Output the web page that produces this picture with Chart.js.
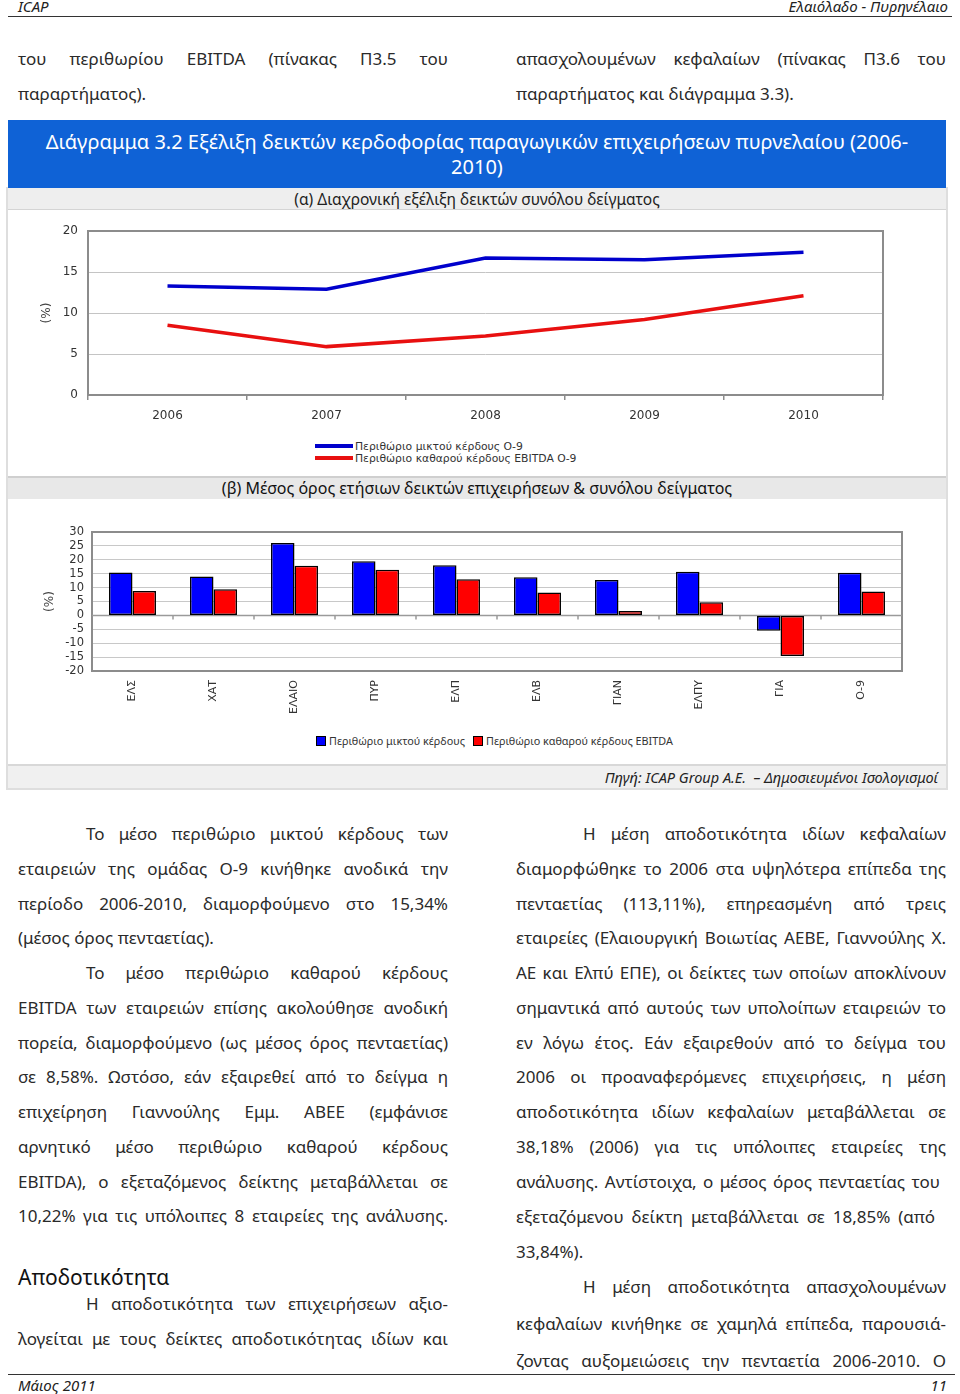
<!DOCTYPE html>
<html><head><meta charset="utf-8">
<script src="https://cdn.jsdelivr.net/npm/chart.js@4"></script>
<style>
html,body{margin:0;padding:0;background:#fff;}
body{width:960px;height:1394px;position:relative;overflow:hidden;font-family:"Noto Sans",sans-serif;color:#2a2a2a;}
.abs{position:absolute;}
.ln{position:absolute;font-size:17px;line-height:24px;height:24px;white-space:normal;overflow:visible;}
.j{text-align:justify;text-align-last:justify;}
.hdr{position:absolute;font-style:italic;font-size:15px;line-height:18px;color:#222;}
.rule{position:absolute;height:0;border-top:1.5px solid #333;}
.bar{position:absolute;left:8px;width:938px;text-align:center;}
.leg1{position:absolute;font-family:"DejaVu Sans",sans-serif;font-size:10.8px;line-height:12px;color:#333;white-space:nowrap;}
.leg1 i{display:inline-block;width:38px;height:3.5px;vertical-align:middle;margin-right:2px;position:relative;top:-1px;}
.leg2{position:absolute;font-size:10.8px;line-height:14px;color:#333;white-space:nowrap;}
.leg2 i{display:inline-block;width:8px;height:8px;border:1px solid #000;vertical-align:middle;margin-right:3px;position:relative;top:-1px;}
</style></head>
<body>

<!-- page header -->
<div class="hdr" style="left:18px;top:-3px;">ICAP</div>
<div class="hdr" style="right:12px;top:-3px;">Ελαιόλαδο - Πυρηνέλαιο</div>
<div class="rule" style="left:8px;width:944px;top:16px;"></div>

<!-- text above chart -->
<div class="ln j" style="left:18px;top:47px;width:430px;">του περιθωρίου EBITDA (πίνακας Π3.5 του</div>
<div class="ln" style="left:18px;top:82px;width:430px;">παραρτήματος).</div>
<div class="ln j" style="left:516px;top:47px;width:430px;">απασχολουμένων κεφαλαίων (πίνακας Π3.6 του</div>
<div class="ln" style="left:516px;top:82px;width:430px;">παραρτήματος και διάγραμμα 3.3).</div>

<!-- chart box -->
<div class="abs" style="left:6px;top:187px;width:938px;height:599px;border:2px solid #dedede;"></div>
<div class="bar" style="top:120px;height:68px;background:#0f62d6;color:#fff;font-size:20px;line-height:25px;">
  <div style="padding-top:9px;">Διάγραμμα 3.2 Εξέλιξη δεικτών κερδοφορίας παραγωγικών επιχειρήσεων πυρνελαίου (2006-<br>2010)</div>
</div>
<div class="bar" style="top:188px;height:21px;background:#eeeeee;border-bottom:1px solid #d4d4d4;font-size:15.5px;line-height:22px;color:#222;">(α) Διαχρονική εξέλιξη δεικτών συνόλου δείγματος</div>

<div class="abs" style="left:8px;top:210px;width:938px;height:225px;"><canvas id="c1" width="938" height="225"></canvas></div>

<div class="leg1" style="left:315px;top:441px;"><i style="background:#0000cc"></i>Περιθώριο μικτού κέρδους Ο-9</div>
<div class="leg1" style="left:315px;top:453px;"><i style="background:#e81010"></i>Περιθώριο καθαρού κέρδους EBITDA Ο-9</div>

<div class="bar" style="top:476px;height:21px;background:#e8e8e8;border-top:2px solid #cfcfcf;font-size:16px;line-height:21px;color:#111;">(β) Μέσος όρος ετήσιων δεικτών επιχειρήσεων &amp; συνόλου δείγματος</div>

<div class="abs" style="left:8px;top:498px;width:938px;height:232px;"><canvas id="c2" width="938" height="232"></canvas></div>

<div class="leg2" style="left:316px;top:734px;"><i style="background:#0000ff"></i>Περιθώριο μικτού κέρδους</div>
<div class="leg2" style="left:473px;top:734px;"><i style="background:#ff0000"></i>Περιθώριο καθαρού κέρδους EBITDA</div>

<div class="bar" style="top:764px;height:22px;background:#f0f0f0;border-top:2px solid #d8d8d8;text-align:right;font-style:italic;font-size:14.5px;line-height:22px;color:#222;"><span style="padding-right:8px;">Πηγή: ICAP Group Α.Ε.&nbsp; – Δημοσιευμένοι Ισολογισμοί</span></div>

<!-- left column -->
<div class="ln j" style="left:86px;top:822px;width:362px;">Το μέσο περιθώριο μικτού κέρδους των</div>
<div class="ln j" style="left:18px;top:857px;width:430px;">εταιρειών της ομάδας Ο-9 κινήθηκε ανοδικά την</div>
<div class="ln j" style="left:18px;top:892px;width:430px;">περίοδο 2006-2010, διαμορφούμενο στο 15,34%</div>
<div class="ln" style="left:18px;top:926px;width:430px;">(μέσος όρος πενταετίας).</div>
<div class="ln j" style="left:86px;top:961px;width:362px;">Το μέσο περιθώριο καθαρού κέρδους</div>
<div class="ln j" style="left:18px;top:996px;width:430px;">EBITDA των εταιρειών επίσης ακολούθησε ανοδική</div>
<div class="ln j" style="left:18px;top:1031px;width:430px;">πορεία, διαμορφούμενο (ως μέσος όρος πενταετίας)</div>
<div class="ln j" style="left:18px;top:1065px;width:430px;">σε 8,58%. Ωστόσο, εάν εξαιρεθεί από το δείγμα η</div>
<div class="ln j" style="left:18px;top:1100px;width:430px;">επιχείρηση Γιαννούλης Εμμ. ΑΒΕΕ (εμφάνισε</div>
<div class="ln j" style="left:18px;top:1135px;width:430px;">αρνητικό μέσο περιθώριο καθαρού κέρδους</div>
<div class="ln j" style="left:18px;top:1170px;width:430px;">EBITDA), ο εξεταζόμενος δείκτης μεταβάλλεται σε</div>
<div class="ln j" style="left:18px;top:1204px;width:430px;">10,22% για τις υπόλοιπες 8 εταιρείες της ανάλυσης.</div>
<div class="abs" style="left:18px;top:1263px;font-size:21px;line-height:28px;color:#111;">Αποδοτικότητα</div>
<div class="ln j" style="left:86px;top:1292px;width:362px;">Η αποδοτικότητα των επιχειρήσεων αξιο-</div>
<div class="ln j" style="left:18px;top:1327px;width:430px;">λογείται με τους δείκτες αποδοτικότητας ιδίων και</div>

<!-- right column -->
<div class="ln j" style="left:583px;top:822px;width:363px;">Η μέση αποδοτικότητα ιδίων κεφαλαίων</div>
<div class="ln j" style="left:516px;top:857px;width:430px;">διαμορφώθηκε το 2006 στα υψηλότερα επίπεδα της</div>
<div class="ln j" style="left:516px;top:892px;width:430px;">πενταετίας (113,11%), επηρεασμένη από τρεις</div>
<div class="ln j" style="left:516px;top:926px;width:430px;">εταιρείες (Ελαιουργική Βοιωτίας ΑΕΒΕ, Γιαννούλης Χ.</div>
<div class="ln j" style="left:516px;top:961px;width:430px;">ΑΕ και Ελπύ ΕΠΕ), οι δείκτες των οποίων αποκλίνουν</div>
<div class="ln j" style="left:516px;top:996px;width:430px;">σημαντικά από αυτούς των υπολοίπων εταιρειών το</div>
<div class="ln j" style="left:516px;top:1031px;width:430px;">εν λόγω έτος. Εάν εξαιρεθούν από το δείγμα του</div>
<div class="ln j" style="left:516px;top:1065px;width:430px;">2006 οι προαναφερόμενες επιχειρήσεις, η μέση</div>
<div class="ln j" style="left:516px;top:1100px;width:430px;">αποδοτικότητα ιδίων κεφαλαίων μεταβάλλεται σε</div>
<div class="ln j" style="left:516px;top:1135px;width:430px;">38,18% (2006) για τις υπόλοιπες εταιρείες της</div>
<div class="ln j" style="left:516px;top:1170px;width:424px;">ανάλυσης. Αντίστοιχα, ο μέσος όρος πενταετίας του</div>
<div class="ln j" style="left:516px;top:1205px;width:419px;">εξεταζόμενου δείκτη μεταβάλλεται σε 18,85% (από</div>
<div class="ln" style="left:516px;top:1240px;width:430px;">33,84%).</div>
<div class="ln j" style="left:583px;top:1275px;width:363px;">Η μέση αποδοτικότητα απασχολουμένων</div>
<div class="ln j" style="left:516px;top:1312px;width:430px;">κεφαλαίων κινήθηκε σε χαμηλά επίπεδα, παρουσιά-</div>
<div class="ln j" style="left:516px;top:1349px;width:430px;">ζοντας αυξομειώσεις την πενταετία 2006-2010. Ο</div>

<!-- footer -->
<div class="rule" style="left:8px;width:947px;top:1374px;"></div>
<div class="hdr" style="left:18px;top:1376px;">Μάιος 2011</div>
<div class="hdr" style="right:13px;top:1376px;">11</div>

<script>
// ---- data ----
const years = ['2006', '2007', '2008', '2009', '2010'];
const grossMarginO9 = [13.3, 12.9, 16.7, 16.5, 17.4];
const ebitdaMarginO9 = [8.5, 5.9, 7.2, 9.2, 12.1];

const companies = ['ΕΛΣ', 'ΧΑΤ', 'ΕΛΑΙΟ', 'ΠΥΡ', 'ΕΛΠ', 'ΕΛΒ', 'ΓΙΑΝ', 'ΕΛΠΥ', 'ΓΙΑ', 'Ο-9'];
const grossMargin = [15.4, 14.0, 26.0, 19.5, 18.0, 13.7, 12.7, 15.7, -5.5, 15.34];
const ebitdaMargin = [8.8, 9.4, 17.9, 16.4, 13.0, 8.2, 1.6, 4.7, -14.6, 8.58];

const lineAxis = { min: 0, max: 20, step: 5 };
const barAxis = { min: -20, max: 30, step: 5 };

const seriesNames1 = ['Περιθώριο μικτού κέρδους Ο-9', 'Περιθώριο καθαρού κέρδους EBITDA Ο-9'];
const seriesNames2 = ['Περιθώριο μικτού κέρδους', 'Περιθώριο καθαρού κέρδους EBITDA'];

// ---- fit text lines ----
document.querySelectorAll('.ln').forEach(el => {
  const w = parseFloat(el.style.width);
  const cs = getComputedStyle(el);
  const p = document.createElement('span');
  p.style.cssText = 'position:absolute;visibility:hidden;white-space:nowrap;';
  p.style.font = cs.font;
  p.textContent = el.textContent;
  document.body.appendChild(p);
  const nw = p.getBoundingClientRect().width;
  p.remove();
  if (nw > w) el.style.fontSize = (parseFloat(cs.fontSize) * w / nw * 0.985) + 'px';
});

Chart.defaults.font.family = '"DejaVu Sans", sans-serif';
Chart.defaults.color = '#333';

const framePlugin = {
  id: 'frame',
  beforeDatasetsDraw(chart) {
    const { ctx, chartArea: a } = chart;
    ctx.save();
    ctx.strokeStyle = '#8c8c8c';
    ctx.lineWidth = 2;
    ctx.strokeRect(a.left, a.top, a.right - a.left, a.bottom - a.top);
    ctx.restore();
  }
};

const zeroTicksPlugin = {
  id: 'zeroTicks',
  beforeDatasetsDraw(chart) {
    const { ctx } = chart;
    const xs = chart.scales.x, ys = chart.scales.y;
    const y0 = ys.getPixelForValue(0);
    ctx.save();
    ctx.strokeStyle = '#9a9a9a';
    ctx.lineWidth = 1.5;
    ctx.beginPath();
    ctx.moveTo(xs.left, y0); ctx.lineTo(xs.right, y0);
    for (let i = 1; i < companies.length; i++) {
      const px = xs.getPixelForValue(i - 0.5);
      ctx.moveTo(px, y0); ctx.lineTo(px, y0 + 4);
    }
    ctx.stroke();
    ctx.restore();
  }
};

new Chart(document.getElementById('c1'), {
  type: 'line',
  data: {
    labels: years,
    datasets: [
      { label: seriesNames1[0], data: grossMarginO9, borderColor: '#0000cc', borderWidth: 3.5, pointRadius: 0, tension: 0, fill: false },
      { label: seriesNames1[1], data: ebitdaMarginO9, borderColor: '#e81010', borderWidth: 3.5, pointRadius: 0, tension: 0, fill: false }
    ]
  },
  options: {
    responsive: false, animation: false,
    layout: { padding: { top: 21, right: 63, left: 0, bottom: 0 } },
    plugins: { legend: { display: false }, tooltip: { enabled: false } },
    scales: {
      x: {
        offset: true,
        grid: { offset: true, drawOnChartArea: false, drawTicks: true, tickLength: 5, color: '#8c8c8c', lineWidth: 1.5 },
        border: { display: false },
        ticks: { color: '#333', font: { size: 12 }, padding: 9, maxRotation: 0 },
        afterFit: s => { s.height = 40; }
      },
      y: {
        min: lineAxis.min, max: lineAxis.max,
        ticks: { stepSize: lineAxis.step, color: '#333', font: { size: 12 }, padding: 10 },
        grid: { color: '#c4c4c4', drawTicks: false, lineWidth: 1 },
        border: { display: false },
        title: { display: true, text: '(%)', color: '#444', font: { size: 12 }, padding: { top: 32, bottom: 0 } },
        afterFit: s => { s.width = 80; }
      }
    }
  },
  plugins: [framePlugin]
});

new Chart(document.getElementById('c2'), {
  type: 'bar',
  data: {
    labels: companies,
    datasets: [
      { label: seriesNames2[0], data: grossMargin, backgroundColor: '#0000ff', borderColor: '#000', borderWidth: 1.5, borderSkipped: false },
      { label: seriesNames2[1], data: ebitdaMargin, backgroundColor: '#ff0000', borderColor: '#000', borderWidth: 1.5, borderSkipped: false }
    ]
  },
  options: {
    responsive: false, animation: false,
    layout: { padding: { top: 34, right: 44, left: 0, bottom: 0 } },
    plugins: { legend: { display: false }, tooltip: { enabled: false } },
    datasets: { bar: { categoryPercentage: 0.58, barPercentage: 1.0 } },
    scales: {
      x: {
        grid: { display: false },
        border: { display: false },
        ticks: { minRotation: 90, maxRotation: 90, autoSkip: false, color: '#333', font: { size: 11 }, padding: 1 },
        afterFit: s => { s.height = 59; }
      },
      y: {
        min: barAxis.min, max: barAxis.max,
        ticks: { stepSize: barAxis.step, autoSkip: false, color: '#333', font: { size: 11.5 }, padding: 8 },
        grid: { color: '#c8c8c8', drawTicks: false, lineWidth: 1 },
        border: { display: false },
        title: { display: true, text: '(%)', color: '#444', font: { size: 12 }, padding: { top: 35, bottom: 0 } },
        afterFit: s => { s.width = 84; }
      }
    }
  },
  plugins: [framePlugin, zeroTicksPlugin]
});
</script>
</body></html>
